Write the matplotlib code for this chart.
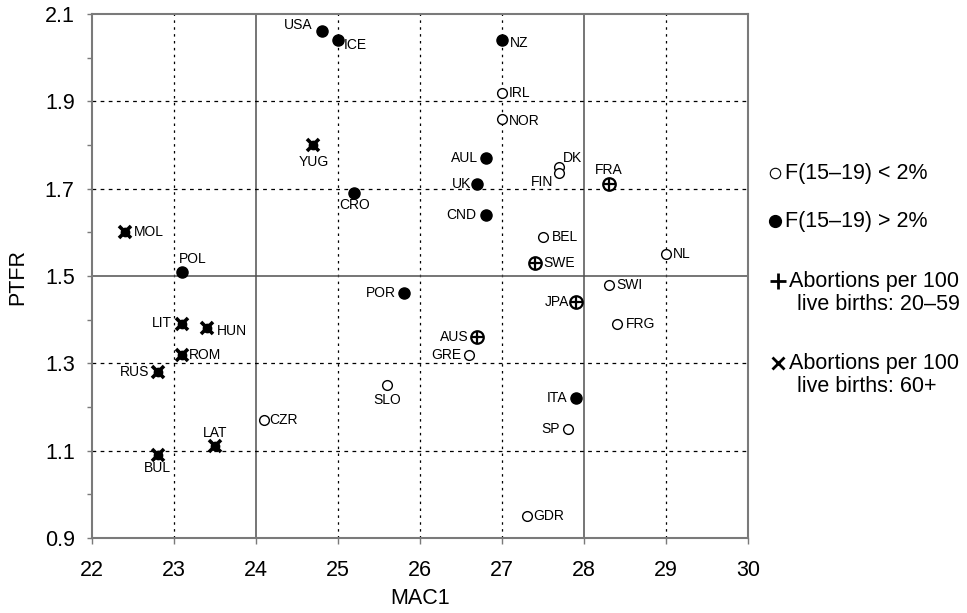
import matplotlib
matplotlib.use("Agg")
import matplotlib.pyplot as plt
from matplotlib.ticker import MultipleLocator

plt.rcParams['font.family'] = ['Liberation Sans', 'DejaVu Sans']

# === Datos ===
countries = ["USA", "ICE", "NZ", "IRL", "NOR", "AUL", "UK", "DK", "FIN", "FRA",
             "CND", "BEL", "SWE", "NL", "SWI", "JPA", "FRG", "POR", "AUS", "GRE",
             "SLO", "ITA", "SP", "GDR", "CZR", "LAT", "BUL", "RUS", "ROM", "LIT",
             "HUN", "MOL", "POL", "YUG", "CRO"]
mac1 = [24.8, 25.0, 27.0, 27.0, 27.0, 26.8, 26.7, 27.7, 27.7, 28.3,
        26.8, 27.5, 27.4, 29.0, 28.3, 27.9, 28.4, 25.8, 26.7, 26.6,
        25.6, 27.9, 27.8, 27.3, 24.1, 23.5, 22.8, 22.8, 23.1, 23.1,
        23.4, 22.4, 23.1, 24.7, 25.2]
ptfr = [2.06, 2.04, 2.04, 1.92, 1.86, 1.77, 1.71, 1.75, 1.735, 1.71,
        1.64, 1.59, 1.53, 1.55, 1.48, 1.44, 1.39, 1.46, 1.36, 1.32,
        1.25, 1.22, 1.15, 0.95, 1.17, 1.11, 1.09, 1.28, 1.32, 1.39,
        1.38, 1.60, 1.51, 1.80, 1.69]
# grupo: "low" F(15-19)<2%, "high" F(15-19)>2%, "ab20" abortos 20-59, "ab60" abortos 60+
group = ["high", "high", "high", "low", "low", "high", "high", "low", "low", "ab20",
         "high", "low", "ab20", "low", "low", "ab20", "low", "high", "ab20", "low",
         "low", "high", "low", "low", "low", "ab60", "ab60", "ab60", "ab60", "ab60",
         "ab60", "ab60", "high", "ab60", "high"]

legend_groups = ["low", "high", "ab20", "ab60"]
legend_labels = ["F(15\u201319) < 2%", "F(15\u201319) > 2%",
                 "Abortions per 100\nlive births: 20\u201359",
                 "Abortions per 100\nlive births: 60+"]

# posicion de las etiquetas (pixeles, alineacion)
label_pos = {
    "USA": (-9, 6, "right"), "ICE": (6, -5, "left"), "NZ": (8, -3, "left"),
    "IRL": (7, 0, "left"), "NOR": (7, -2, "left"), "AUL": (-8, 0, "right"),
    "UK": (-6, 0, "right"), "DK": (3, 9, "left"), "FIN": (-6, -9, "right"),
    "FRA": (0, 14, "center"), "CND": (-9, 0, "right"), "BEL": (9, 0, "left"),
    "SWE": (9, 0, "left"), "NL": (7, 0, "left"), "SWI": (8, 0, "left"),
    "JPA": (-7, 0, "right"), "FRG": (9, 0, "left"), "POR": (-8, 0, "right"),
    "AUS": (-9, 0, "right"), "GRE": (-8, 0, "right"), "SLO": (0, -15, "center"),
    "ITA": (-8, 0, "right"), "SP": (-8, 0, "right"), "GDR": (7, 0, "left"),
    "CZR": (5, 0, "left"), "LAT": (0, 13, "center"), "BUL": (0, -13, "center"),
    "RUS": (-8, 0, "right"), "ROM": (7, 0, "left"), "LIT": (-10, 1, "right"),
    "HUN": (10, -3, "left"), "MOL": (9, 0, "left"), "POL": (-3, 13, "left"),
    "YUG": (0, -17, "center"), "CRO": (0, -12, "center"),
}

spine_col = "#7a7a7a"
big = 15.5


def draw_marker(ax, x, y, g, **kw):
    if g == "low":
        ax.plot(x, y, "o", ms=7, mfc="white", mec="black", mew=1.0, **kw)
    elif g == "high":
        ax.plot(x, y, "o", ms=8, mfc="black", mec="black", **kw)
    elif g == "ab20":
        ax.plot(x, y, "o", ms=9, mfc="white", mec="black", mew=1.6, **kw)
        ax.plot(x, y, "+", ms=9, mec="black", mew=1.6, **kw)
    else:
        ax.plot(x, y, "o", ms=6, mfc="black", mec="black", **kw)
        ax.plot(x, y, "x", ms=8, mec="black", mew=2.6, **kw)


fig = plt.figure(figsize=(9.67, 6.13), dpi=100)
ax = fig.add_axes([92 / 967, 75 / 613, 656 / 967, 524 / 613])

ax.set_xlim(22, 30)
ax.set_ylim(0.9, 2.1)

# rejilla
for xv in [23, 25, 26, 27, 29]:
    ax.axvline(xv, color="black", lw=0.9, ls=(0, (2, 3.5)), zorder=0)
for xv in [24, 28]:
    ax.axvline(xv, color="#505050", lw=1.1, zorder=0)
for yv in [1.1, 1.3, 1.7, 1.9]:
    ax.axhline(yv, color="black", lw=0.9, ls=(0, (3, 3.5)), zorder=0)
ax.axhline(1.5, color="#505050", lw=1.1, zorder=0)

for c, x, y, g in zip(countries, mac1, ptfr, group):
    draw_marker(ax, x, y, g, zorder=3)
    dx, dy, ha = label_pos[c]
    ax.annotate(c, (x, y), xytext=(dx, dy), textcoords="offset pixels",
                ha=ha, va="center", fontsize=10, zorder=4)

ax.xaxis.set_major_locator(MultipleLocator(1))
ax.yaxis.set_minor_locator(MultipleLocator(0.1))
ax.set_yticks([0.9, 1.1, 1.3, 1.5, 1.7, 1.9, 2.1])
ax.yaxis.set_major_formatter(plt.FuncFormatter(lambda v, p: f"{v:.1f}"))
ax.tick_params(axis="both", which="both", direction="out", color=spine_col,
               width=1.0, labelsize=big)
ax.tick_params(axis="y", which="both", length=3.5, pad=9)
ax.tick_params(axis="x", length=4, pad=12)
for s in ax.spines.values():
    s.set_color(spine_col)
    s.set_linewidth(1.5)

fig.text(420 / 967, 1 - 598 / 613, "MAC1", fontsize=big, ha="center", va="center")
fig.text(18 / 967, 1 - 277 / 613, "PTFR", fontsize=big, ha="center", va="center",
         rotation=90)

# leyenda
leg_y = [173, 221, 281, 363]
for g, lab, py in zip(legend_groups, legend_labels, leg_y):
    yf = 1 - py / 613
    fx = 775 / 967
    if g == "low":
        fig.lines.append(plt.Line2D([fx], [yf], marker="o", ms=7.5, mfc="white",
                                    mec="black", mew=0.8, transform=fig.transFigure))
    elif g == "high":
        fig.lines.append(plt.Line2D([fx], [yf], marker="o", ms=8.5, mfc="black",
                                    mec="black", transform=fig.transFigure))
    elif g == "ab20":
        fig.lines.append(plt.Line2D([fx + 3 / 967], [yf], marker="+", ms=11, mec="black",
                                    mew=2.0, transform=fig.transFigure))
    else:
        fig.lines.append(plt.Line2D([fx + 3 / 967], [yf], marker="x", ms=9, mec="black",
                                    mew=2.0, transform=fig.transFigure))
    lines = lab.split("\n")
    if len(lines) == 2:
        fig.text(789 / 967, yf, lines[0], fontsize=big, va="center", ha="left")
        fig.text(797 / 967, yf - 23 / 613, lines[1], fontsize=big, va="center", ha="left")
    else:
        fig.text(785 / 967, yf, lines[0], fontsize=big, va="center", ha="left")

fig.savefig("out.png", dpi=100)
